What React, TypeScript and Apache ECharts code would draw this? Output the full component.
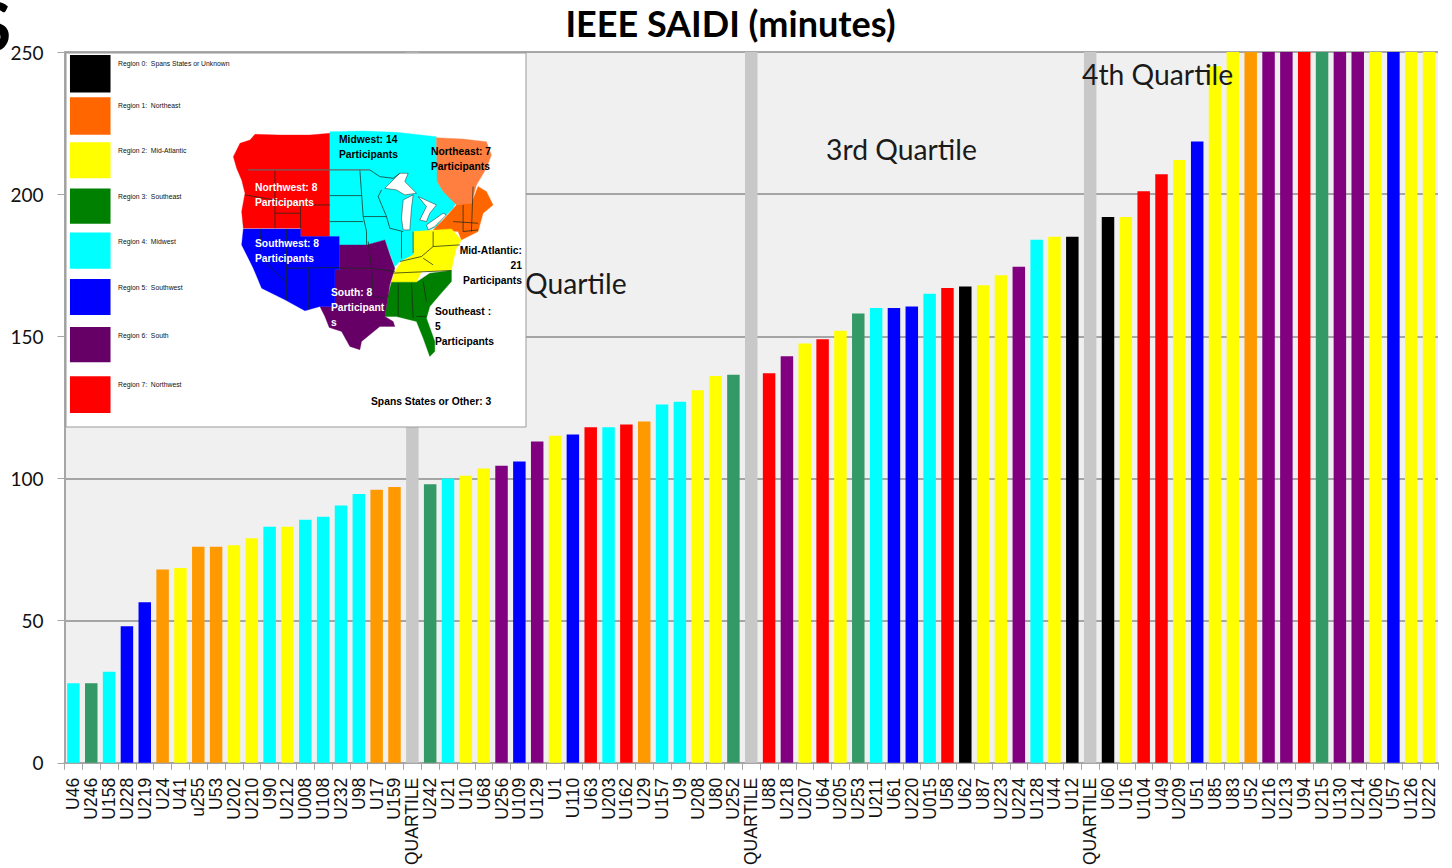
import React, { useEffect, useRef } from "react";
import * as echarts from "echarts";

const black = "#000000", orange = "#FF9900", yellow = "#FFFF00", green = "#339966",
  cyan = "#00FFFF", blue = "#0000FF", purple = "#800080", red = "#FF0000", grey = "#C8C8C8";

const categories = ["U46","U246","U158","U228","U219","U24","U41","u255","U53","U202","U210","U90","U212","U008","U108","U232","U98","U17","U159","QUARTILE","U242","U21","U10","U68","U256","U109","U129","U1","U110","U63","U203","U162","U29","U157","U9","U208","U80","U252","QUARTILE","U88","U218","U207","U64","U205","U253","U211","U61","U220","U015","U58","U62","U87","U223","U224","U128","U44","U12","QUARTILE","U60","U16","U104","U49","U209","U51","U85","U83","U52","U216","U213","U94","U215","U130","U214","U206","U57","U126","U222"];

const values = [28,28,32,48,56.5,68,68.5,76,76,76.5,79,83,83,85.5,86.5,90.5,94.5,96,97,250,98,100,101,103.5,104.5,106,113,115,115.5,118,118,119,120,126,127,131,136,136.5,250,137,143,147.5,149,152,158,160,160,160.5,165,167,167.5,168,171.5,174.5,184,185,185,250,192,192,201,207,212,218.5,245,250,250,250,250,250,250,250,250,250,250,250,250];

const colors = [cyan,green,cyan,blue,blue,orange,yellow,orange,orange,yellow,yellow,cyan,yellow,cyan,cyan,cyan,cyan,orange,orange,grey,green,cyan,yellow,yellow,purple,blue,purple,yellow,blue,red,cyan,red,orange,cyan,cyan,yellow,yellow,green,grey,red,purple,yellow,red,yellow,green,cyan,blue,blue,cyan,red,black,yellow,yellow,purple,cyan,yellow,black,grey,black,yellow,red,red,yellow,blue,yellow,yellow,orange,purple,purple,red,green,purple,purple,yellow,blue,yellow,yellow];

const yTicks = [0, 50, 100, 150, 200, 250];

const legendNames = ["Region 0:  Spans States or Unknown","Region 1:  Northeast","Region 2:  Mid-Atlantic","Region 3:  Southeast","Region 4:  Midwest","Region 5:  Southwest","Region 6:  South","Region 7:  Northwest"];
const legendColors = ["#000000","#FF6600","#FFFF00","#008000","#00FFFF","#0000FF","#660066","#FF0000"];
const legendTops = [165,292,427,566,698,838,982,1130];
const legendBottoms = [278,405,535,672,807,946,1088,1240];
const legendTextY = [63,105,150,196,241,287,335,384];

const mapRegions: [string, number[][]][] = [
  ["#FF0000", [[10,95],[30,55],[60,45],[75,28],[150,30],[240,30],[300,25],[300,335],[212,335],[212,310],[40,310],[35,260],[45,205],[35,165],[20,130]]],
  ["#00FFFF", [[300,20],[400,18],[500,22],[620,35],[622,170],[640,200],[680,230],[670,250],[640,280],[620,305],[590,320],[550,320],[550,390],[510,410],[495,425],[480,385],[465,345],[410,360],[328,360],[328,335],[300,335]]],
  ["#FF7F40", [[620,38],[700,42],[770,50],[785,90],[770,130],[740,180],[725,235],[680,240],[640,200],[622,170]]],
  ["#FF6600", [[620,305],[640,285],[680,240],[725,235],[745,185],[770,200],[790,240],[760,265],[745,320],[715,335],[695,345],[685,320],[610,315]]],
  ["#FFFF00", [[550,320],[665,312],[695,345],[680,370],[670,410],[665,437],[575,440],[560,472],[485,472],[495,440],[515,410],[550,390]]],
  ["#008000", [[485,472],[560,472],[600,445],[665,437],[665,470],[630,510],[600,545],[590,580],[615,650],[615,680],[600,695],[580,640],[560,590],[500,575],[465,575],[475,510]]],
  ["#660066", [[328,360],[410,360],[465,345],[480,390],[495,430],[480,480],[465,575],[490,590],[495,605],[450,605],[395,650],[390,675],[360,665],[335,620],[298,608],[285,575],[270,545],[315,545],[315,435],[328,435]]],
  ["#0000FF", [[40,312],[212,312],[212,335],[328,335],[328,435],[315,435],[315,545],[270,545],[225,558],[165,525],[95,490],[70,430],[35,360]]],
];
const mapLakes: number[][][] = [
  [[465,190],[510,145],[535,145],[525,170],[560,205],[525,210],[500,195]],
  [[520,225],[550,210],[545,250],[540,315],[520,315],[515,280]],
  [[565,215],[620,240],[600,265],[590,290],[570,285],[590,245]],
  [[590,300],[640,265],[650,270],[615,305],[595,315]],
];
const mapGreyLine: number[][] = [[55,135],[420,135]];
const mapLines: number[][][] = [
  [[420,135],[450,155],[490,160],[510,145]],
  [[135,135],[135,310]],
  [[45,210],[135,225],[210,240],[300,240]],
  [[212,240],[212,310]],
  [[135,265],[212,265]],
  [[90,312],[95,400],[165,470]],
  [[170,312],[170,525]],
  [[170,430],[328,428]],
  [[235,430],[235,555]],
  [[390,135],[400,275],[410,320],[410,360]],
  [[300,212],[395,212]],
  [[300,290],[400,290]],
  [[400,275],[470,275]],
  [[470,275],[445,215],[455,195]],
  [[470,275],[480,310],[520,320]],
  [[515,320],[515,400]],
  [[415,350],[425,430],[495,440]],
  [[330,430],[425,430]],
  [[425,430],[430,515],[465,520]],
  [[505,475],[505,575]],
  [[545,475],[550,580]],
  [[580,470],[590,530]],
  [[560,575],[590,575]],
  [[550,320],[550,385]],
  [[610,320],[610,365],[690,360]],
  [[510,410],[575,395],[610,365]],
  [[580,400],[610,420]],
  [[485,445],[665,437]],
  [[700,240],[700,320]],
  [[730,185],[725,320]],
  [[670,290],[745,295]],
  [[700,320],[745,315]],
];
const mapLabels: [string, number, number, string, string][] = [
  ["Midwest: 14\nParticipants", 339, 147, "#000000", "left"],
  ["Northeast: 7\nParticipants", 431, 159, "#000000", "left"],
  ["Northwest: 8\nParticipants", 255, 195, "#FFFFFF", "left"],
  ["Southwest: 8\nParticipants", 255, 251, "#FFFFFF", "left"],
  ["South: 8\nParticipant\ns", 331, 307, "#FFFFFF", "left"],
  ["Mid-Atlantic:\n21\nParticipants", 522, 265, "#000000", "right"],
  ["Southeast :\n5\nParticipants", 435, 326, "#000000", "left"],
  ["Spans States or Other: 3", 371, 401, "#000000", "left"],
];

function lift(els: any[], z: number): any[] {
  return els.map((e) => ({ ...e, z, zlevel: 0, ...(e.children ? { children: lift(e.children, z) } : {}) }));
}

function buildGraphic() {
  const sans = "Liberation Sans";
  const swatches = legendColors.map((c, i) => ({
    type: "rect",
    shape: { x: 207, y: legendTops[i], width: 120, height: legendBottoms[i] - legendTops[i] },
    style: { fill: c },
  }));
  const regions = mapRegions.map(([c, pts]) => ({ type: "polygon", shape: { points: pts }, style: { fill: c, stroke: c, lineWidth: 1 } }));
  const lakes = mapLakes.map((pts) => ({ type: "polygon", shape: { points: pts }, style: { fill: "#FFFFFF", stroke: "#222222", lineWidth: 1.5 } }));
  const lines = mapLines.map((pts) => ({ type: "polyline", shape: { points: pts }, style: { fill: null, stroke: "#1A2A1A", lineWidth: 2.2 } }));
  return {
    elements: lift([
      { type: "text", x: -25, y: -8, style: { text: "S", font: "bold 66px Lato", fill: "#000000" } },
      { type: "text", x: 730.5, y: 23, style: { text: "IEEE SAIDI (minutes)", font: "bold 36px Lato", fill: "#000000", align: "center", verticalAlign: "middle" } },
      { type: "text", x: 525, y: 283, style: { text: "Quartile", font: "28.3px Lato", fill: "#1A1A1A", verticalAlign: "middle" } },
      { type: "text", x: 826, y: 149, style: { text: "3rd Quartile", font: "28.3px Lato", fill: "#1A1A1A", verticalAlign: "middle" } },
      { type: "text", x: 1082, y: 74, style: { text: "4th Quartile", font: "28.3px Lato", fill: "#1A1A1A", verticalAlign: "middle" } },
      { type: "rect", shape: { x: 66, y: 53, width: 460, height: 374 }, style: { fill: "#FFFFFF", stroke: "#9A9A9A", lineWidth: 1 } },
      { type: "group", scaleX: 1 / 2.96, scaleY: 1 / 3, children: swatches },
      {
        type: "group", x: 230, y: 125, scaleX: 1 / 3, scaleY: 1 / 3,
        children: [
          ...regions, ...lakes, ...lines,
          { type: "polyline", shape: { points: mapGreyLine }, style: { fill: null, stroke: "#666666", lineWidth: 4 } },
        ],
      },
      ...legendNames.map((t, i) => ({ type: "text", x: 118, y: legendTextY[i], style: { text: t, font: `6.8px ${sans}`, fill: "#111111", verticalAlign: "middle" } })),
      ...mapLabels.map(([t, x, y, c, a]) => ({ type: "text", x, y, style: { text: t, font: `bold 10.3px ${sans}`, lineHeight: 15, fill: c, align: a, verticalAlign: "middle" } })),
    ], 100),
  };
}

export default function App() {
  const ref = useRef<HTMLDivElement>(null);
  useEffect(() => {
    const chart = echarts.init(ref.current!, null, { renderer: "svg" });
    chart.setOption({
      animation: false,
      backgroundColor: "#FFFFFF",
      grid: { left: 64.5, right: 14, top: 52, bottom: 105, show: true, backgroundColor: "#F0F0F0", borderWidth: 0 },
      xAxis: {
        type: "category",
        data: categories,
        axisLine: { lineStyle: { color: "#A6A6A6", width: 2 } },
        axisTick: { show: true, alignWithLabel: false, length: 7, lineStyle: { color: "#A6A6A6", width: 1 } },
        axisLabel: {
          interval: 0,
          rotate: 90,
          margin: 15,
          fontFamily: "Liberation Sans",
          fontSize: 17.5,
          color: "#111111",
        },
      },
      yAxis: {
        type: "value",
        min: yTicks[0],
        max: yTicks[yTicks.length - 1],
        interval: 50,
        axisLine: { show: true, lineStyle: { color: "#A6A6A6", width: 2 } },
        axisTick: { show: true, length: 7, lineStyle: { color: "#A6A6A6", width: 1 } },
        axisLabel: { fontFamily: "Lato", fontSize: 19, color: "#111111", margin: 21 },
        splitLine: { show: true, lineStyle: { color: "#8C8C8C", width: 1.5 } },
      },
      series: [
        {
          type: "bar",
          barCategoryGap: "30%",
          data: values.map((v, i) => ({ value: v, itemStyle: { color: colors[i] } })),
        },
      ],
      graphic: buildGraphic(),
    });
    return () => chart.dispose();
  }, []);
  return <div ref={ref} style={{ position: "fixed", left: 0, top: 0, width: 1452, height: 868 }} />;
}
